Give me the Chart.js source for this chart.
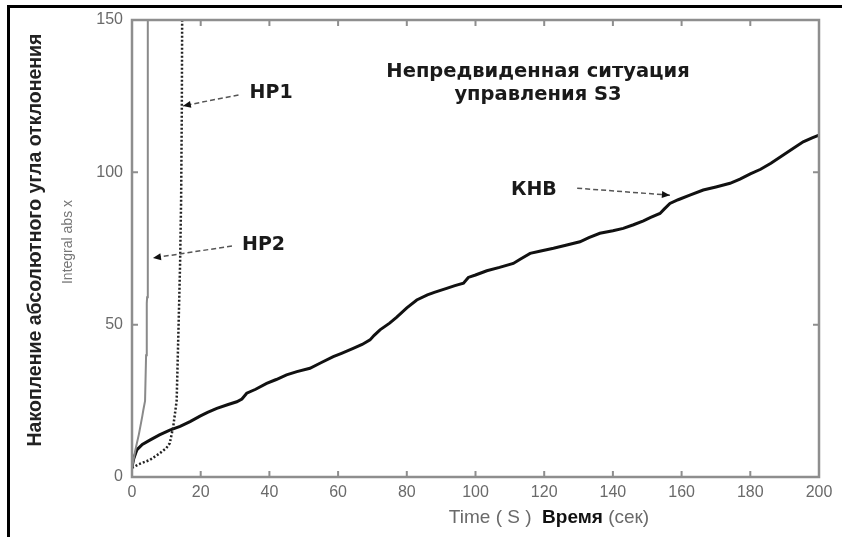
<!DOCTYPE html>
<html>
<head>
<meta charset="utf-8">
<script src="https://cdn.jsdelivr.net/npm/chart.js@4/dist/chart.umd.min.js"></script>
<style>
html,body{margin:0;padding:0;background:#fff;}
#wrap{position:relative;width:842px;height:537px;}
canvas{display:block;}
</style>
</head>
<body>
<div id="wrap"><canvas id="c" width="842" height="537"></canvas></div>
<script>
// ---- data ----
const khbTime = [0, 0.5, 1.4, 3, 5.2, 8, 11, 14, 16.9, 19.8, 22, 24.7, 28, 30.5, 32, 33.4, 36, 39.2, 42, 45, 48, 51.8, 55, 58.6, 61, 64.4, 67, 69.3, 70.5, 72.2, 75, 77, 80, 82.9, 86, 88, 91.6, 94, 96.5, 97.9, 100, 103.3, 107, 111, 113, 115.9, 119, 122.7, 126, 130.4, 133, 136.2, 140, 143, 146, 148.9, 151, 153.7, 155, 156.6, 159, 162.4, 166.3, 170, 174.1, 177, 180, 183, 186, 189.6, 192, 195.4, 198, 200];
const khbValue = [3.3, 6, 8.9, 10.7, 12.1, 13.8, 15.4, 16.6, 18.2, 20, 21.2, 22.5, 23.8, 24.7, 25.6, 27.5, 28.8, 30.7, 32, 33.5, 34.6, 35.7, 37.5, 39.5, 40.6, 42.2, 43.5, 45, 46.5, 48.3, 50.5, 52.4, 55.5, 58.1, 59.8, 60.6, 61.9, 62.8, 63.6, 65.5, 66.3, 67.7, 68.8, 70.1, 71.5, 73.4, 74.2, 75.1, 76, 77.2, 78.6, 80, 80.8, 81.6, 82.8, 84.1, 85.2, 86.5, 88, 89.8, 91, 92.5, 94.2, 95.2, 96.4, 97.8, 99.5, 101, 103, 105.7, 107.5, 110, 111.3, 112.2];

const hp2Time = [0, 0.5, 1, 2, 3, 3.3, 3.8, 4.1, 4.3, 4.4, 4.6, 4.6];
const hp2Value = [3, 6, 9, 14, 20, 22, 25, 40, 57, 59, 62, 150];

const hp1Time = [0, 2, 5.2, 8.1, 10, 11, 12, 13, 13.5, 14, 14.3, 14.5, 14.6];
const hp1Value = [3, 4.2, 5.6, 7.8, 9.5, 11.1, 16.5, 25, 47, 70, 91, 120, 150];

const xTicks = [0, 20, 40, 60, 80, 100, 120, 140, 160, 180, 200];
const yTicks = [0, 50, 100, 150];

const titleLines = ['Непредвиденная ситуация', 'управления S3'];
const yTitleMain = 'Накопление абсолютного угла отклонения';
const yTitleSub = 'Integral abs x';
const xTitleParts = [['Time ( S )  ', 'normal', '#6a6a6a'], ['Время', 'bold', '#111'], [' (сек)', 'normal', '#6a6a6a']];

// annotation labels (in data units): text, label x/y, arrow start x/y, arrow end x/y
const notes = [
  ['НР1', 40.5, 126, 31, 125.4, 14.8, 121.8],
  ['НР2', 38.3, 76.1, 29.1, 75.8, 6.1, 71.9],
  ['КНВ', 117, 94.2, 129.6, 94.8, 156.6, 92.5]
];

function pts(t, v) { return t.map((x, i) => ({x: x, y: v[i]})); }

const AXIS_COLOR = '#8e8e8e';
const TICK_COLOR = '#6a6a6a';

const decor = {
  id: 'decor',
  beforeDraw(chart) {
    const c = chart.ctx;
    c.save();
    c.fillStyle = '#fff';
    c.fillRect(0, 0, chart.width, chart.height);
    c.strokeStyle = '#000';
    c.lineWidth = 3;
    c.beginPath();
    c.moveTo(842, 6.5); c.lineTo(8.5, 6.5); c.lineTo(8.5, 537);
    c.stroke();
    c.restore();
  },
  afterDraw(chart) {
    const c = chart.ctx;
    const a = chart.chartArea;
    const xs = chart.scales.x, ys = chart.scales.y;
    c.save();
    c.strokeStyle = AXIS_COLOR;
    c.lineWidth = 2.5;
    c.strokeRect(a.left, a.top, a.right - a.left, a.bottom - a.top);
    c.lineWidth = 2;
    c.beginPath();
    xTicks.forEach(v => {
      const px = xs.getPixelForValue(v);
      c.moveTo(px, a.bottom); c.lineTo(px, a.bottom - 6);
      c.moveTo(px, a.top); c.lineTo(px, a.top + 6);
    });
    yTicks.forEach(v => {
      const py = ys.getPixelForValue(v);
      c.moveTo(a.left, py); c.lineTo(a.left + 6, py);
      c.moveTo(a.right, py); c.lineTo(a.right - 6, py);
    });
    c.stroke();

    // title
    c.fillStyle = '#1a1a1a';
    c.font = 'bold 19.5px "DejaVu Sans"';
    c.textAlign = 'center';
    c.textBaseline = 'middle';
    const tx = xs.getPixelForValue(118.2);
    c.fillText(titleLines[0], tx, ys.getPixelForValue(133));
    c.fillText(titleLines[1], tx, ys.getPixelForValue(125.4));

    // annotations
    notes.forEach(n => {
      c.fillStyle = '#1a1a1a';
      c.font = 'bold 19px "DejaVu Sans"';
      c.textAlign = 'center';
      c.fillText(n[0], xs.getPixelForValue(n[1]), ys.getPixelForValue(n[2]));
      const x0 = xs.getPixelForValue(n[3]), y0 = ys.getPixelForValue(n[4]);
      const x1 = xs.getPixelForValue(n[5]), y1 = ys.getPixelForValue(n[6]);
      c.strokeStyle = '#555';
      c.lineWidth = 1.5;
      c.setLineDash([5, 3]);
      c.beginPath(); c.moveTo(x0, y0); c.lineTo(x1, y1); c.stroke();
      c.setLineDash([]);
      const ang = Math.atan2(y1 - y0, x1 - x0);
      c.fillStyle = '#111';
      c.beginPath();
      c.moveTo(x1, y1);
      c.lineTo(x1 - 8 * Math.cos(ang) + 3.5 * Math.sin(ang), y1 - 8 * Math.sin(ang) - 3.5 * Math.cos(ang));
      c.lineTo(x1 - 8 * Math.cos(ang) - 3.5 * Math.sin(ang), y1 - 8 * Math.sin(ang) + 3.5 * Math.cos(ang));
      c.closePath(); c.fill();
    });

    // y titles (rotated)
    c.save();
    c.translate(36, 240);
    c.rotate(-Math.PI / 2);
    c.fillStyle = '#222';
    c.font = 'bold 19.5px "Liberation Sans"';
    c.textAlign = 'center';
    c.textBaseline = 'middle';
    c.fillText(yTitleMain, 0, 0);
    c.restore();
    c.save();
    c.translate(68, 242);
    c.rotate(-Math.PI / 2);
    c.fillStyle = '#777';
    c.font = '14px "Liberation Sans"';
    c.textAlign = 'center';
    c.textBaseline = 'middle';
    c.fillText(yTitleSub, 0, 0);
    c.restore();

    // x title with mixed weights
    c.textBaseline = 'middle';
    c.textAlign = 'left';
    const fs = 19;
    let total = 0;
    xTitleParts.forEach(p => { c.font = p[1] + ' ' + fs + 'px "Liberation Sans"'; total += c.measureText(p[0]).width; });
    let sx = 549 - total / 2;
    xTitleParts.forEach(p => {
      c.font = p[1] + ' ' + fs + 'px "Liberation Sans"';
      c.fillStyle = p[2];
      c.fillText(p[0], sx, 518);
      sx += c.measureText(p[0]).width;
    });
    c.restore();
  }
};

new Chart(document.getElementById('c'), {
  type: 'scatter',
  data: {
    datasets: [
      {label: 'НР2', data: pts(hp2Time, hp2Value), showLine: true, borderColor: '#8a8a8a', borderWidth: 2, pointRadius: 0, tension: 0},
      {label: 'НР1', data: pts(hp1Time, hp1Value), showLine: true, borderColor: '#222', borderWidth: 2.5, borderDash: [2, 2], pointRadius: 0, tension: 0},
      {label: 'КНВ', data: pts(khbTime, khbValue), showLine: true, borderColor: '#111', borderWidth: 3, pointRadius: 0, tension: 0}
    ]
  },
  options: {
    responsive: false,
    animation: false,
    devicePixelRatio: 1,
    layout: {padding: {left: 0, top: 20, right: 23, bottom: 0}},
    plugins: {legend: {display: false}, tooltip: {enabled: false}},
    scales: {
      x: {
        type: 'linear', min: 0, max: 200,
        afterFit(s) { s.height = 60; },
        afterBuildTicks(s) { s.ticks = xTicks.map(v => ({value: v})); },
        grid: {display: false, drawTicks: false},
        border: {display: false},
        ticks: {color: TICK_COLOR, font: {family: 'Liberation Sans', size: 16}, padding: 6, maxRotation: 0, autoSkip: false}
      },
      y: {
        type: 'linear', min: 0, max: 150,
        afterFit(s) { s.width = 132; },
        afterBuildTicks(s) { s.ticks = yTicks.map(v => ({value: v})); },
        grid: {display: false, drawTicks: false},
        border: {display: false},
        ticks: {color: TICK_COLOR, font: {family: 'Liberation Sans', size: 16}, padding: 9}
      }
    }
  },
  plugins: [decor]
});
</script>
</body>
</html>
